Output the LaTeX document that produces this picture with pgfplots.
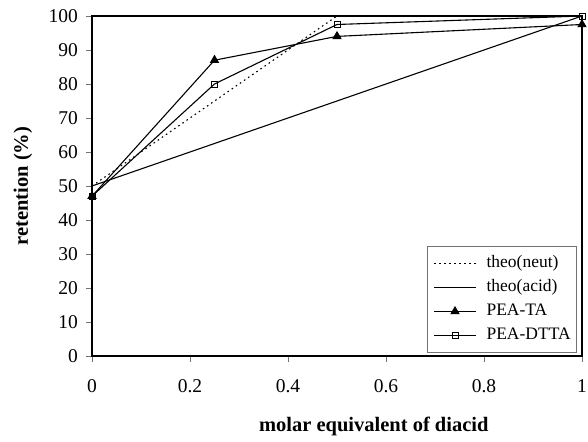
\documentclass[border=0pt]{standalone}
\usepackage{fontspec}
\setmainfont{Liberation Serif}
\usepackage{pgfplots}
\pgfplotsset{compat=1.18}

\begin{document}
\begin{tikzpicture}
\begin{axis}[
    at={(0pt,0pt)}, anchor=south west,
    scale only axis,
    width=490pt, height=340pt,
    xmin=0, xmax=1, ymin=0, ymax=100,
    xtick={0,0.2,0.4,0.6,0.8,1},
    xticklabels={0,0.2,0.4,0.6,0.8,1},
    ytick={0,10,...,100},
    tick align=outside, tick pos=left,
    major tick length=6pt,
    tick style={black!55, line width=0.6pt},
    axis line style={line width=1.3pt},
    /pgf/number format/assume math mode=true,
    ticklabel style={font=\fontsize{19.5}{22}\selectfont},
    xticklabel style={yshift=-14pt},
    yticklabel style={xshift=-4.5pt},
    xlabel={\bfseries molar equivalent of diacid},
    ylabel={\bfseries retention (\%)},
    label style={font=\fontsize{20.5}{24}\selectfont},
    xlabel style={at={([yshift=-75pt]rel axis cs:0.575,0)}, anchor=base},
    ylabel style={at={([xshift=-69pt]rel axis cs:0,0.5)}, anchor=center},
    legend style={at={([xshift=-5pt,yshift=3pt]rel axis cs:1,0)}, anchor=south east,
        draw=black!55, line width=0.6pt,
        font=\fontsize{17.5}{20}\selectfont,
        inner xsep=6pt, inner ysep=8pt, row sep=5.5pt,
        nodes={inner xsep=0pt, inner ysep=1pt, text height=12.5pt, text depth=4pt},
        /tikz/every odd column/.append style={column sep=10pt}},
    legend cell align=left,
    legend image code/.code={%
        \draw[mark repeat=2,mark phase=2,#1]
        plot coordinates {(0pt,0pt) (21pt,0pt) (42pt,0pt)};},
]
\addplot[black, line width=1.1pt, dash pattern=on 1.6pt off 3.4pt] coordinates {(0,50) (0.5,100) (1,100)};
\addlegendentry{theo(neut)}
\addplot[black, line width=1.1pt] coordinates {(0,50) (1,100)};
\addlegendentry{theo(acid)}
\addplot[black, line width=1.1pt, mark=triangle*, mark size=4.4pt, mark options={solid}] coordinates {(0,47) (0.25,87) (0.5,94) (1,97.5)};
\addlegendentry{PEA-TA}
\addplot[black, line width=1.1pt, mark=square, mark size=3pt, mark options={solid, fill=white, line width=0.8pt}] coordinates {(0,47) (0.25,80) (0.5,97.5) (1,100)};
\addlegendentry{PEA-DTTA}
\end{axis}
\pgfresetboundingbox
\useasboundingbox (-92pt,-85pt) rectangle (496pt,356pt);
\end{tikzpicture}
\end{document}
